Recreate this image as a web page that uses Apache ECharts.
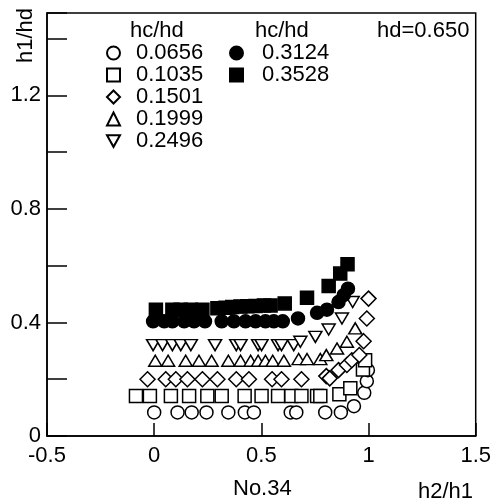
<!DOCTYPE html>
<html>
<head>
<meta charset="utf-8">
<script src="https://cdn.jsdelivr.net/npm/echarts@6/dist/echarts.min.js"></script>
<style>
  html, body { margin: 0; padding: 0; background: #fff; }
  #chart { width: 494px; height: 502px; }
</style>
</head>
<body>
<div id="chart"></div>
<script>
// hc/hd values (legend)
const ratios = ['0.0656', '0.1035', '0.1501', '0.1999', '0.2496', '0.3124', '0.3528']

// h2/h1 (x) and h1/hd (y)
const x0656 = [0, 0.109, 0.175, 0.244, 0.346, 0.423, 0.465, 0.637, 0.663, 0.798, 0.871, 0.932, 0.98, 0.992, 0.997]
const y0656 = [0.083, 0.083, 0.083, 0.083, 0.083, 0.083, 0.083, 0.083, 0.083, 0.083, 0.083, 0.105, 0.152, 0.193, 0.232]

const x1035 = [-0.085, -0.02, 0.078, 0.163, 0.248, 0.315, 0.422, 0.501, 0.578, 0.64, 0.687, 0.76, 0.775, 0.864, 0.915, 0.974, 0.984]
const y1035 = [0.141, 0.141, 0.141, 0.141, 0.141, 0.141, 0.141, 0.141, 0.141, 0.141, 0.141, 0.141, 0.141, 0.147, 0.168, 0.234, 0.267]

const x1501 = [-0.031, 0.054, 0.101, 0.155, 0.225, 0.295, 0.383, 0.442, 0.55, 0.594, 0.687, 0.803, 0.819, 0.86, 0.899, 0.922, 0.957, 0.977, 0.992, 1.0]
const y1501 = [0.2, 0.2, 0.2, 0.2, 0.2, 0.2, 0.2, 0.2, 0.2, 0.2, 0.2, 0.211, 0.203, 0.232, 0.25, 0.267, 0.285, 0.334, 0.414, 0.484]

const x1999 = [0.005, 0.065, 0.147, 0.209, 0.268, 0.346, 0.403, 0.45, 0.485, 0.519, 0.553, 0.605, 0.674, 0.713, 0.775, 0.803, 0.853, 0.899, 0.938]
const y1999 = [0.265, 0.265, 0.265, 0.265, 0.265, 0.265, 0.265, 0.265, 0.265, 0.265, 0.265, 0.265, 0.271, 0.271, 0.271, 0.285, 0.308, 0.332, 0.379]

const x2496 = [-0.005, 0.039, 0.085, 0.124, 0.171, 0.284, 0.383, 0.403, 0.485, 0.501, 0.578, 0.594, 0.651, 0.682, 0.752, 0.814, 0.876, 0.926]
const y2496 = [0.32, 0.32, 0.32, 0.32, 0.32, 0.32, 0.32, 0.32, 0.32, 0.32, 0.32, 0.32, 0.32, 0.332, 0.349, 0.375, 0.414, 0.472]

const x3124 = [-0.005, 0.047, 0.085, 0.14, 0.186, 0.237, 0.315, 0.372, 0.426, 0.473, 0.519, 0.558, 0.6, 0.671, 0.76, 0.806, 0.86, 0.884, 0.904]
const y3124 = [0.404, 0.404, 0.404, 0.404, 0.404, 0.404, 0.404, 0.404, 0.404, 0.404, 0.404, 0.404, 0.404, 0.414, 0.434, 0.445, 0.472, 0.496, 0.519]

const x3528 = [0.008, 0.085, 0.124, 0.171, 0.225, 0.295, 0.333, 0.364, 0.403, 0.434, 0.473, 0.512, 0.543, 0.609, 0.713, 0.814, 0.868, 0.902]
const y3528 = [0.445, 0.445, 0.445, 0.445, 0.445, 0.45, 0.452, 0.454, 0.456, 0.457, 0.458, 0.46, 0.46, 0.467, 0.487, 0.528, 0.572, 0.605]

const font = 'Liberation Sans'
const downTri = 'path://M0,0 L10,0 L5,9 Z'

const chart = echarts.init(document.getElementById('chart'))

function pairs (xs, ys) {
  return xs.map((x, i) => [x, ys[i]])
}

function makeSeries (name, xs, ys, symbol, size, filled) {
  return {
    name: name,
    type: 'scatter',
    data: pairs(xs, ys),
    symbol: symbol,
    symbolSize: size,
    itemStyle: {
      color: filled ? '#000' : '#fff',
      borderColor: '#000',
      borderWidth: 1.5,
      opacity: 1
    },
    emphasis: { disabled: true }
  }
}

const legendText = (padLeft) => ({
  color: '#000',
  fontSize: 22,
  fontFamily: font,
  lineHeight: 22,
  padding: [0, 0, 0, padLeft]
})

const option = {
  backgroundColor: '#fff',
  animation: false,
  textStyle: { fontFamily: font },
  grid: {
    left: 47,
    right: 17,
    top: 13,
    bottom: 66,
    show: true,
    borderColor: '#000',
    borderWidth: 1.5
  },
  xAxis: {
    type: 'value',
    min: -0.5,
    max: 1.5,
    interval: 0.5,
    splitLine: { show: false },
    axisLine: { onZero: false, lineStyle: { color: '#000', width: 1.5 } },
    axisTick: { inside: true, length: 13, lineStyle: { color: '#000', width: 1.5 } },
    axisLabel: { color: '#000', fontSize: 22, fontFamily: font, margin: 9 }
  },
  yAxis: {
    type: 'value',
    min: 0,
    max: 1.49,
    interval: 0.2,
    splitLine: { show: false },
    axisLine: { onZero: false, lineStyle: { color: '#000', width: 1.5 } },
    axisTick: { inside: true, length: 20, lineStyle: { color: '#000', width: 1.5 } },
    axisLabel: {
      color: '#000',
      fontSize: 22,
      fontFamily: font,
      margin: 6,
      formatter: function (v) {
        const r = Math.round(v * 10) / 10
        if (Math.abs(v - r) > 1e-6) return ''
        if (r === 0) return '0'
        if (Math.abs(r * 10 % 4) < 1e-6) return r.toFixed(1)
        return ''
      }
    }
  },
  legend: [
    {
      data: ratios.slice(0, 5),
      orient: 'vertical',
      left: 101,
      top: 37,
      itemGap: 0,
      itemWidth: 13,
      itemHeight: 13,
      textStyle: legendText(11)
    },
    {
      data: ratios.slice(5),
      orient: 'vertical',
      left: 224,
      top: 37,
      itemGap: 0,
      itemWidth: 13,
      itemHeight: 13,
      textStyle: legendText(14)
    }
  ],
  graphic: [
    {
      type: 'text', left: 130, top: 20,
      style: { text: 'hc/hd', fill: '#000', font: '22px "Liberation Sans"' }
    },
    {
      type: 'text', left: 255, top: 20,
      style: { text: 'hc/hd', fill: '#000', font: '22px "Liberation Sans"' }
    },
    {
      type: 'text', left: 377, top: 20,
      style: { text: 'hd=0.650', fill: '#000', font: '22px "Liberation Sans"' }
    },
    {
      type: 'text', left: 418, top: 481,
      style: { text: 'h2/h1', fill: '#000', font: '22px "Liberation Sans"' }
    },
    {
      type: 'text', left: 233, top: 478,
      style: { text: 'No.34', fill: '#000', font: '22px "Liberation Sans"' }
    },
    {
      type: 'text',
      x: 15,
      y: 63,
      rotation: Math.PI / 2,
      style: { text: 'h1/hd', fill: '#000', font: '22px "Liberation Sans"' }
    }
  ],
  series: [
    makeSeries(ratios[0], x0656, y0656, 'circle', 13, false),
    makeSeries(ratios[1], x1035, y1035, 'rect', 13, false),
    makeSeries(ratios[2], x1501, y1501, 'diamond', 15, false),
    makeSeries(ratios[3], x1999, y1999, 'triangle', [13, 11], false),
    makeSeries(ratios[4], x2496, y2496, downTri, [13, 11], false),
    makeSeries(ratios[5], x3124, y3124, 'circle', 13, true),
    makeSeries(ratios[6], x3528, y3528, 'rect', 13, true)
  ]
}

chart.setOption(option)
</script>
</body>
</html>
